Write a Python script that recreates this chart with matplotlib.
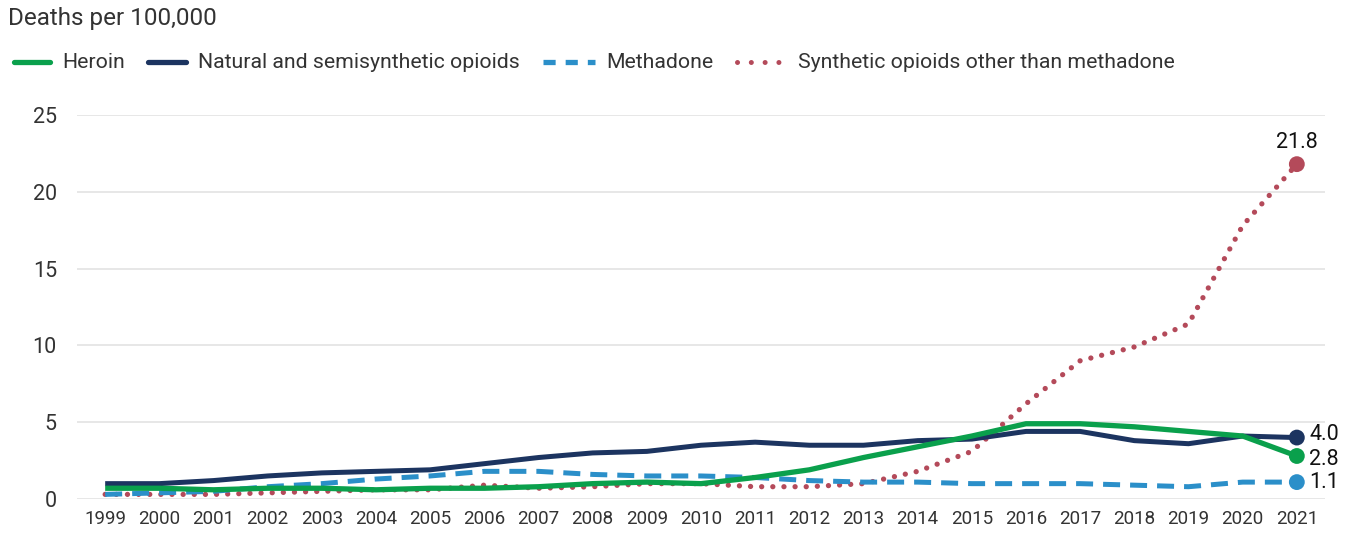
import matplotlib
matplotlib.use("Agg")
import matplotlib.pyplot as plt
from matplotlib.lines import Line2D

plt.rcParams['font.family'] = ['Roboto', 'DejaVu Sans']

years = list(range(1999, 2022))
heroin = [0.7, 0.7, 0.6, 0.7, 0.7, 0.6, 0.7, 0.7, 0.8, 1.0, 1.1, 1.0,
          1.4, 1.9, 2.7, 3.4, 4.1, 4.9, 4.9, 4.7, 4.4, 4.1, 2.8]
natural = [1.0, 1.0, 1.2, 1.5, 1.7, 1.8, 1.9, 2.3, 2.7, 3.0, 3.1, 3.5,
           3.7, 3.5, 3.5, 3.8, 3.9, 4.4, 4.4, 3.8, 3.6, 4.1, 4.0]
methadone = [0.3, 0.4, 0.5, 0.8, 1.0, 1.3, 1.5, 1.8, 1.8, 1.6, 1.5, 1.5,
             1.4, 1.2, 1.1, 1.1, 1.0, 1.0, 1.0, 0.9, 0.8, 1.1, 1.1]
synthetic = [0.3, 0.3, 0.3, 0.4, 0.5, 0.6, 0.6, 0.9, 0.7, 0.8, 1.0, 1.0,
             0.8, 0.8, 1.0, 1.8, 3.1, 6.2, 9.0, 9.9, 11.4, 17.8, 21.8]

series_names = ["Heroin", "Natural and semisynthetic opioids", "Methadone",
                "Synthetic opioids other than methadone"]
y_ticks = [0, 5, 10, 15, 20, 25]

GREEN = "#0aa04c"
NAVY = "#1c3460"
BLUE = "#2b8fc9"
RED = "#b44a5a"
TEXT = "#333333"

W, H = 1361, 535
fig = plt.figure(figsize=(W / 100, H / 100), dpi=100)
ax = fig.add_axes([77 / W, 1 - 499 / H, (1325 - 77) / W, (499 - 115) / H])

styles = [
    dict(color=RED, lw=3.8, linestyle=(0, (0.01, 2.1)), dash_capstyle="round", zorder=2),
    dict(color=BLUE, lw=3.6, linestyle=(0, (3.4, 2.0)), dash_capstyle="butt", zorder=3),
    dict(color=NAVY, lw=3.6, solid_capstyle="butt", zorder=4),
    dict(color=GREEN, lw=3.8, solid_capstyle="butt", zorder=5),
]
for vals, st in zip([synthetic, methadone, natural, heroin], styles):
    ax.plot(years, vals, clip_on=False, **st)
    ax.scatter([years[-1]], [vals[-1]], s=130, color=st["color"], zorder=6,
               edgecolors="none", clip_on=False)

# end-of-line value labels; the two closest ones are nudged apart slightly
lbl = dict(fontsize=15.5, color="#111111", zorder=7)
for vals, dy in ((natural, 2.5), (heroin, -2.5), (methadone, 0)):
    ax.annotate(f"{vals[-1]:.1f}", (years[-1], vals[-1]), xytext=(9, dy),
                textcoords="offset points", ha="left", va="center", **lbl)
ax.annotate(f"{synthetic[-1]:.1f}", (years[-1], synthetic[-1]), xytext=(0, 8),
            textcoords="offset points", ha="center", va="bottom", **lbl)

ax.set_xlim(1998.48, 2021.52)
ax.set_ylim(0, 25)
ax.set_yticks(y_ticks)
ax.set_xticks(years)
ax.set_xticklabels([str(y) for y in years])
ax.grid(axis="y", color="#e3e3e3", lw=1.2)
ax.set_axisbelow(True)
for s in ax.spines.values():
    s.set_visible(False)
ax.tick_params(axis="both", length=0, colors=TEXT)
ax.tick_params(axis="y", labelsize=15.5, pad=14.5)
ax.tick_params(axis="x", labelsize=13.5, pad=8)

fig.text(8 / W, 1 - 18 / H, "Deaths per 100,000", fontsize=17.5, color=TEXT,
         ha="left", va="center")

# legend row built from line handles and labels
renderer = fig.canvas.get_renderer()
leg_y = 1 - 62 / H
handles = [
    dict(color=GREEN, lw=3.8, solid_capstyle="round", length=36),
    dict(color=NAVY, lw=3.8, solid_capstyle="round", length=38),
    dict(color=BLUE, lw=3.8, linestyle=(0, (2.3, 1.9)), dash_capstyle="butt", length=52),
    dict(color=RED, lw=3.6, linestyle=(0, (0.01, 2.75)), dash_capstyle="round", length=49),
]
x = 14
for name, h in zip(series_names, handles):
    h = dict(h)
    length = h.pop("length")
    fig.add_artist(Line2D([x / W, (x + length) / W], [leg_y, leg_y],
                          transform=fig.transFigure, **h))
    x += length + 12
    t = fig.text(x / W, leg_y, name, fontsize=15.3, color=TEXT, ha="left",
                 va="center")
    bb = t.get_window_extent(renderer)
    x = bb.x1 + 23

fig.savefig("out.png", dpi=100)
